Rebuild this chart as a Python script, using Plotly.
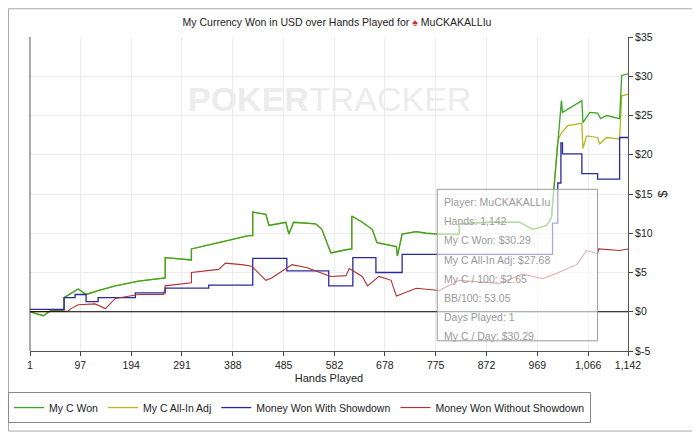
import plotly.graph_objects as go

# Hands / values
green_x = [1, 26, 40, 66, 66, 93, 108, 131, 164, 208, 259, 259, 309, 309, 361, 418, 426, 426, 451, 457, 489, 495, 504, 546, 558, 575, 604, 615, 615, 635, 654, 663, 700, 702, 711, 738, 757, 782, 820, 820, 878, 935, 960, 987, 996, 1002, 1008, 1015, 1017, 1027, 1054, 1056, 1069, 1084, 1090, 1101, 1126, 1130, 1142]
green_y = [0, -0.5, 0.1, 0.2, 1.8, 2.9, 2.2, 2.7, 3.3, 3.9, 4.3, 6.9, 6.6, 8.0, 8.8, 9.7, 9.7, 12.7, 12.4, 11.0, 11.4, 9.9, 11.4, 11.2, 10.5, 7.5, 7.9, 8.0, 12.2, 11.4, 10.5, 8.8, 8.3, 7.1, 9.9, 10.2, 10.0, 9.9, 9.9, 11.2, 11.4, 11.4, 10.5, 11.0, 12.0, 16.7, 21.8, 26.9, 25.4, 25.8, 26.9, 24.1, 25.4, 25.3, 24.6, 25.0, 24.6, 30.1, 30.3]

yellow_x = [1, 26, 40, 66, 66, 93, 108, 131, 164, 208, 259, 259, 309, 309, 361, 418, 426, 426, 451, 457, 489, 495, 504, 546, 558, 575, 604, 615, 615, 635, 654, 663, 700, 702, 711, 738, 757, 782, 820, 820, 878, 935, 960, 987, 996, 1002, 1008, 1015, 1027, 1054, 1056, 1063, 1084, 1088, 1101, 1126, 1130, 1142]
yellow_y = [0, -0.5, 0.1, 0.2, 1.8, 2.9, 2.2, 2.7, 3.3, 3.9, 4.3, 6.9, 6.6, 8.0, 8.8, 9.7, 9.7, 12.7, 12.4, 11.0, 11.4, 9.9, 11.4, 11.2, 10.5, 7.5, 7.9, 8.0, 12.2, 11.4, 10.5, 8.8, 8.3, 7.1, 9.9, 10.2, 10.0, 9.9, 9.9, 11.2, 11.4, 11.4, 10.5, 11.0, 12.0, 16.7, 21.8, 22.8, 23.7, 24.0, 20.8, 22.4, 22.2, 21.4, 22.2, 22.0, 27.5, 27.7]

blue_x = [1, 66, 87, 108, 131, 202, 259, 342, 426, 491, 571, 617, 661, 711, 998, 1008, 1014, 1017, 1054, 1084, 1126, 1142]
blue_y = [0.3, 1.8, 2.2, 1.3, 1.8, 2.4, 3.0, 3.4, 6.8, 5.2, 3.3, 6.9, 5.0, 7.3, 11.3, 16.4, 21.5, 20.1, 17.6, 16.9, 22.2, 22.2]

red_x = [1, 74, 79, 93, 125, 145, 164, 190, 208, 256, 259, 309, 309, 361, 374, 405, 424, 451, 462, 501, 530, 558, 575, 604, 610, 635, 645, 667, 690, 700, 738, 782, 820, 897, 941, 979, 1006, 1044, 1063, 1084, 1086, 1126, 1142]
red_y = [0, 0.1, 0.4, 0.9, 1.0, 0.4, 1.7, 2.0, 2.2, 2.2, 3.3, 3.7, 5.0, 5.4, 6.2, 6.0, 5.8, 4.0, 4.3, 6.0, 5.6, 4.9, 4.5, 4.6, 5.5, 4.5, 3.3, 4.5, 4.0, 2.0, 3.0, 2.7, 4.0, 3.6, 4.8, 4.2, 4.9, 6.0, 7.8, 7.4, 8.0, 7.8, 8.0]

x_ticks = [1, 97, 194, 291, 388, 485, 582, 678, 775, 872, 969, 1066, 1142]
y_ticks = [-5, 0, 5, 10, 15, 20, 25, 30, 35]

stats = ["Player: MuCKAKALLIu", "Hands: 1,142", "My C Won: $30.29", "My C All-In Adj: $27.68",
         "My C / 100: $2.65", "BB/100: 53.05", "Days Played: 1", "My C / Day: $30.29"]

fig = go.Figure()
fig.add_trace(go.Scatter(x=yellow_x, y=yellow_y, name="My C All-In Adj", mode="lines", legendrank=2,
                         line=dict(color="#b5b81e", width=1.3)))
fig.add_trace(go.Scatter(x=green_x, y=green_y, name="My C Won", mode="lines", legendrank=1,
                         line=dict(color="#3ca428", width=1.3)))
fig.add_trace(go.Scatter(x=blue_x, y=blue_y, name="Money Won With Showdown", mode="lines", legendrank=3,
                         line=dict(color="#2a2aa0", width=1.3, shape="hv")))
fig.add_trace(go.Scatter(x=red_x, y=red_y, name="Money Won Without Showdown", mode="lines", legendrank=4,
                         line=dict(color="#b03030", width=1.1)))

# zero line and left border
fig.add_shape(type="line", x0=1, x1=1142, y0=0, y1=0, line=dict(color="black", width=1))
fig.add_shape(type="line", x0=0, x1=0, y0=0, y1=1, xref="paper", yref="paper",
              line=dict(color="#555555", width=1))
# outer frame
fig.add_shape(type="rect", x0=-0.036, x1=1.118, y0=-0.255, y1=1.09, xref="paper", yref="paper",
              line=dict(color="#aaaaaa", width=1))

# stats box
fig.add_shape(type="rect", x0=778, x1=1084, y0=-3.7, y1=15.6,
              fillcolor="rgba(255,255,255,0.6)", line=dict(color="#999999", width=1))
for i, s in enumerate(stats):
    fig.add_annotation(x=788, y=14.0 - i * 2.45, xanchor="left", yanchor="middle", showarrow=False,
                       text=s, font=dict(size=10.5, color="#9a9a9a", family="Arial"))

# watermark
fig.add_annotation(x=0.5, y=0.87, xref="paper", yref="paper", showarrow=False,
                   text="<b>POKER</b>TRACKER", font=dict(size=34, color="#ececec", family="Arial"))

fig.update_layout(
    width=700, height=433,
    margin=dict(l=22, r=80, t=29, b=90, autoexpand=False),
    paper_bgcolor="white", plot_bgcolor="white",
    font=dict(family="Arial", size=10.5, color="#222222"),
    title=dict(text="My Currency Won in USD over Hands Played for <span style='color:#d03030'>♠</span> MuCKAKALLIu",
               x=0.47, y=0.975, xanchor="center", font=dict(size=10.5)),
    legend=dict(orientation="h", x=0.0, xref="container", y=0.113, yref="container",
                xanchor="left", yanchor="top",
                bordercolor="#888888", borderwidth=1, font=dict(size=10.5),
                itemwidth=30, tracegroupgap=0),
    showlegend=True,
)
fig.update_xaxes(range=[1, 1142], tickvals=x_ticks, ticktext=[f"{v:,}" for v in x_ticks],
                 showgrid=True, gridcolor="#ececec", showline=True, linecolor="#555555",
                 ticks="outside", ticklen=4, zeroline=False, automargin=False,
                 title=dict(text="Hands Played", standoff=4, font=dict(size=11)))
fig.update_yaxes(range=[-5, 35], side="right", tickvals=y_ticks,
                 ticktext=[f"${v}" if v >= 0 else f"$-{-v}" for v in y_ticks],
                 showgrid=True, gridcolor="#ececec", showline=True, linecolor="#555555",
                 ticks="outside", ticklen=4, zeroline=False, automargin=False,
                 title=dict(text="$", standoff=6))

fig.write_html("out.html")
